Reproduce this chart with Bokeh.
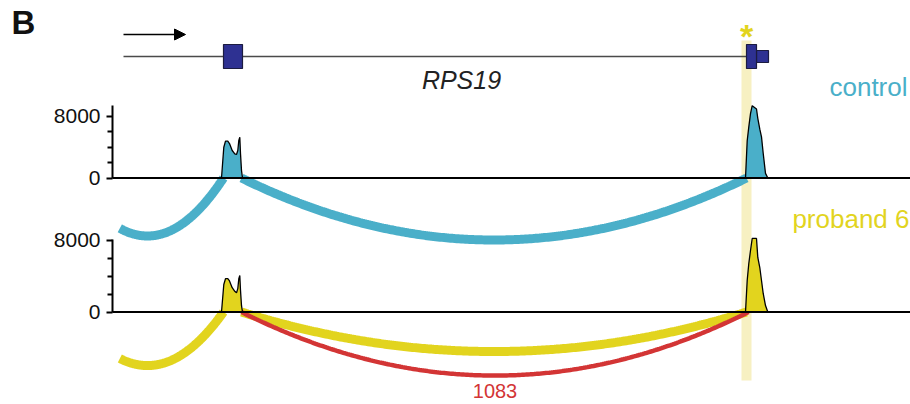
import numpy as np
from bokeh.plotting import figure
from bokeh.models import Range1d, LinearAxis, FixedTicker, Arrow, NormalHead
from bokeh.core.properties import value
from bokeh.embed import file_html
from bokeh.resources import INLINE

# ---------------- data (positions in bp, relative to window start) ----------------
window_bp = (-80, 9020)
track_start = 1110          # first displayed bp of the coverage tracks
gene_span = (1150, 7380)
tss_arrow = (1150, 1770)
cds_starts = [2150, 7380]
cds_ends = [2340, 7480]
utr_starts = [7480]
utr_ends = [7600]
variant_bp = (7330, 7430)   # highlighted variant region

cov_x_exon2 = [2130, 2153, 2170, 2193, 2210, 2237, 2263, 2280, 2293, 2303, 2313, 2320, 2330, 2340]
ctrl_cov_exon2 = [0, 3970, 4750, 4750, 4450, 3550, 3120, 3030, 3550, 4840, 5260, 3160, 970, 0]
prob_cov_exon2 = [0, 3050, 3700, 3700, 3450, 2700, 2300, 2130, 2600, 3700, 4050, 2400, 700, 0]
cov_x_exon3 = [7370, 7387, 7403, 7420, 7437, 7480, 7493, 7513, 7530, 7547, 7570, 7593]
ctrl_cov_exon3 = [0, 4810, 6600, 8300, 9330, 8900, 7700, 6300, 5300, 3200, 600, 0]
prob_cov_exon3 = [0, 3500, 5390, 6830, 8170, 8170, 6060, 4940, 3500, 2060, 720, 0]

ctrl_junc_start = [630, 2330]
ctrl_junc_end = [2150, 7380]
ctrl_junc_depth = [7480, 8000]
prob_junc_start = [630, 2330, 2330]
prob_junc_end = [2150, 7380, 7400]
prob_junc_depth = [5950, 4390, 7060]
prob_junc_label = ["", "", "1083"]

y_ticks = [0, 8000]
y_minor_ticks = [2000, 4000, 6000]
gene_name = "RPS19"
sample_names = ["control", "proband 6"]

# ---------------- style / layout ----------------
W, H = 910, 404
BLUE = "#4aafc9"
YELLOW = "#e2d41e"
RED = "#d33535"
EXON = "#2e3192"
HILITE = "#f7f0c2"
FONT = value("Liberation Sans")
axis_x = 1040
ctrl_base_px, ctrl_px8000 = 177.5, 62.0    # baseline px from top of frame, px per 8000
prob_base_px, prob_px8000 = 311.5, 72.0
ctrl_axis_top = 9400
prob_axis_top = 8100
gene_label_x = 4530
sample_label_x = [8990, 9010]
ARC_W = 9
MINOR_ARC_W = 4.5


def track_range(base_px, px8000):
    u = 8000.0 / px8000
    return Range1d(start=-(H - base_px) * u, end=base_px * u)


p = figure(width=W, height=H, x_range=Range1d(*window_bp), y_range=Range1d(0, H),
           output_backend="svg", toolbar_location=None,
           x_axis_location=None, y_axis_location=None, min_border=0)
p.grid.visible = False
p.outline_line_color = None
p.background_fill_color = "white"
p.extra_y_ranges = {"ctrl": track_range(ctrl_base_px, ctrl_px8000),
                    "prob": track_range(prob_base_px, prob_px8000)}

# layout y (in default range: 0 bottom .. H top)
gene_y = H - 56
cds_h, utr_h = 24, 12

# highlight band
p.quad(left=[variant_bp[0]], right=[variant_bp[1]], bottom=[H - 380], top=[H - 40],
       fill_color=HILITE, line_color=None)

# gene model
p.line([gene_span[0], gene_span[1]], [gene_y, gene_y], line_color="#4a4a4a", line_width=1.6)
p.add_layout(Arrow(end=NormalHead(size=11, fill_color="black", line_color="black"),
                   x_start=tss_arrow[0], y_start=H - 34, x_end=tss_arrow[1], y_end=H - 34,
                   line_width=1.5, line_color="black"))
p.quad(left=utr_starts, right=utr_ends, bottom=[gene_y - utr_h / 2] * len(utr_starts),
       top=[gene_y + utr_h / 2] * len(utr_starts), fill_color=EXON, line_color="#1c1c40", line_width=1.2)
p.quad(left=cds_starts, right=cds_ends, bottom=[gene_y - cds_h / 2] * len(cds_starts),
       top=[gene_y + cds_h / 2] * len(cds_starts), fill_color=EXON, line_color="#1c1c40", line_width=1.2)
p.text(x=[gene_label_x], y=[H - 79], text=[gene_name],
       text_font=FONT, text_font_style="italic", text_font_size="25px",
       text_align="center", text_baseline="middle", text_color="#222222")
p.text(x=[(variant_bp[0] + variant_bp[1]) / 2], y=[H - 35], text=["*"],
       text_font=FONT, text_font_style="bold", text_font_size="34px",
       text_align="center", text_baseline="middle", text_color=YELLOW)
p.text(x=[30], y=[H - 21.5], text=["B"], text_font=FONT, text_font_style="bold",
       text_font_size="33px", text_align="left", text_baseline="middle", text_color="#111111")


def arc(x0, x1, depth, n=240):
    t = np.linspace(0, 1, n)
    cx, cy = (x0 + x1) / 2.0, -2.0 * depth
    xs = (1 - t) ** 2 * x0 + 2 * t * (1 - t) * cx + t ** 2 * x1
    ys = 2 * t * (1 - t) * cy
    keep = xs >= track_start
    return xs[keep], ys[keep]


tracks = [
    ("ctrl", BLUE, cov_x_exon2, ctrl_cov_exon2, cov_x_exon3, ctrl_cov_exon3,
     ctrl_junc_start, ctrl_junc_end, ctrl_junc_depth, [BLUE, BLUE], [ARC_W, ARC_W], ["", ""], ctrl_axis_top),
    ("prob", YELLOW, cov_x_exon2, prob_cov_exon2, cov_x_exon3, prob_cov_exon3,
     prob_junc_start, prob_junc_end, prob_junc_depth, [YELLOW, YELLOW, RED], [ARC_W, ARC_W, MINOR_ARC_W],
     prob_junc_label, prob_axis_top),
]

for (rn, col, xa, ya, xb, yb, js, je, jd, jcol, jw, jlab, atop) in tracks:
    for s, e, d, c, w, lab in zip(js, je, jd, jcol, jw, jlab):
        xs, ys = arc(s, e, d)
        p.line(xs, ys, line_color=c, line_width=w, y_range_name=rn)
        if lab:
            p.text(x=[(s + e) / 2], y=[-d], text=[lab], y_range_name=rn, y_offset=15,
                   text_font=FONT, text_font_size="20px", text_align="center",
                   text_baseline="middle", text_color=c)
    for xx, yy in ((xa, ya), (xb, yb)):
        p.patch(xx, yy, fill_color=col, line_color="black", line_width=1.3, y_range_name=rn)
    p.line([axis_x, window_bp[1]], [0, 0], line_color="black", line_width=2, y_range_name=rn)
    ax = LinearAxis(y_range_name=rn, fixed_location=axis_x, bounds=(0, atop),
                    ticker=FixedTicker(ticks=y_ticks, minor_ticks=y_minor_ticks))
    ax.axis_line_width = 2
    ax.major_tick_line_width = 2
    ax.minor_tick_line_width = 2
    ax.major_tick_out = 6
    ax.major_tick_in = 0
    ax.minor_tick_out = 5
    ax.minor_tick_in = 0
    ax.major_label_text_font = "Liberation Sans"
    ax.major_label_text_font_size = "21px"
    ax.major_label_standoff = 6
    ax.major_label_text_color = "#111111"
    p.add_layout(ax, "left")

p.text(x=sample_label_x, y=[H - 86, H - 218], text=sample_names,
       text_font=FONT, text_font_size="26px", text_align="right", text_baseline="middle",
       text_color=[BLUE, YELLOW])

open("out.html", "w").write(file_html(p, INLINE))
